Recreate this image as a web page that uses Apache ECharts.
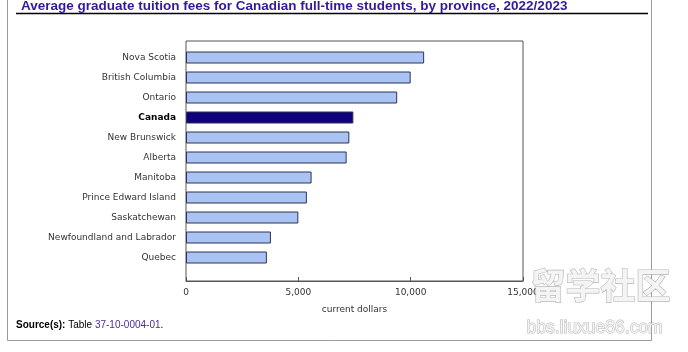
<!DOCTYPE html>
<html>
<head>
<meta charset="utf-8">
<script src="https://cdn.jsdelivr.net/npm/echarts@6/dist/echarts.min.js"></script>
<style>
  html, body { margin: 0; padding: 0; background: #fff; }
  #chart { width: 688px; height: 352px; }
</style>
</head>
<body>
<div id="chart"></div>
<script>
// 省份与学费（当前美元）
const provinces = ['Nova Scotia', 'British Columbia', 'Ontario', 'Canada', 'New Brunswick', 'Alberta',
    'Manitoba', 'Prince Edward Island', 'Saskatchewan', 'Newfoundland and Labrador', 'Quebec'];
const fees = [10600, 10000, 9400, 7450, 7270, 7150, 5590, 5380, 5000, 3780, 3600];
const xTicks = [0, 5000, 10000, 15000];

const chart = echarts.init(document.getElementById('chart'));

const barData = fees.map((v, i) => ({
    value: v,
    itemStyle: provinces[i] === 'Canada' ? { color: '#0f0080' } : {}
}));

chart.setOption({
    animation: false,
    title: {
        text: 'Average graduate tuition fees for Canadian full-time students, by province, 2022/2023',
        left: 16, top: -6,
        textStyle: { fontFamily: 'Liberation Sans', fontSize: 13.5, fontWeight: 'bold', color: '#34199c' }
    },
    graphic: [
        { type: 'rect', shape: { x: 7.5, y: -5, width: 644, height: 345.5 }, style: { fill: 'none', stroke: '#9a9a9a', lineWidth: 1 }, z: -1 },
        { type: 'line', shape: { x1: 16, y1: 13.5, x2: 648, y2: 13.5 }, style: { stroke: '#000', lineWidth: 1.5 } },
        {
            type: 'text', left: 16, top: 320,
            style: {
                text: '{b|Source(s):} Table {l|37-10-0004-01}.',
                rich: {
                    b: { fontWeight: 'bold', fontFamily: 'Liberation Sans', fontSize: 10, fill: '#000' },
                    l: { fontFamily: 'Liberation Sans', fontSize: 10, fill: '#4a2d96' }
                },
                fontFamily: 'Liberation Sans', fontSize: 10, fill: '#000'
            }
        },
        // 水印
        {
            type: 'text', left: 530, top: 268, z: 100,
            style: { text: '留学社区', fontFamily: 'Noto Sans CJK SC', fontSize: 35, fontWeight: 'bold',
                fill: '#f4f4f4', stroke: '#b5b5b5', lineWidth: 1.2,
                shadowColor: 'rgba(0,0,0,0.25)', shadowBlur: 3, shadowOffsetX: 1, shadowOffsetY: 1 }
        },
        {
            type: 'text', left: 526, top: 319, z: 100,
            style: { text: 'bbs.liuxue86.com', fontFamily: 'Liberation Sans', fontSize: 17.5,
                fill: '#f4f4f4', stroke: '#b5b5b5', lineWidth: 1,
                shadowColor: 'rgba(0,0,0,0.2)', shadowBlur: 2, shadowOffsetX: 1, shadowOffsetY: 1 }
        }
    ],
    grid: [
        { left: 186, top: 41, width: 337, height: 240, show: true, borderColor: '#555', borderWidth: 1, backgroundColor: '#fff' },
        { left: 186, top: 47.5, width: 337, height: 220 }
    ],
    xAxis: [
        {
            gridIndex: 0, type: 'value', min: xTicks[0], max: xTicks[xTicks.length - 1], interval: 5000,
            name: 'current dollars', nameLocation: 'middle', nameGap: 24,
            nameTextStyle: { fontFamily: 'DejaVu Sans', fontSize: 9, color: '#333' },
            axisLine: { show: true, lineStyle: { color: '#555' } },
            axisTick: { show: true, inside: true, length: 4, lineStyle: { color: '#555' } },
            axisLabel: { fontFamily: 'DejaVu Sans', fontSize: 9, color: '#333', margin: 7,
                formatter: v => v.toLocaleString('en-US') },
            splitLine: { show: false }
        },
        { gridIndex: 1, type: 'value', min: 0, max: 15000, show: false, splitLine: { show: false } }
    ],
    yAxis: [
        { gridIndex: 0, type: 'value', show: false, splitLine: { show: false } },
        {
            gridIndex: 1, type: 'category', data: provinces, inverse: true,
            axisLine: { show: false }, axisTick: { show: false },
            axisLabel: {
                margin: 10, fontFamily: 'DejaVu Sans', fontSize: 9, color: '#333',
                formatter: v => v === 'Canada' ? '{c|' + v + '}' : v,
                rich: { c: { fontWeight: 'bold', color: '#000', fontFamily: 'DejaVu Sans', fontSize: 9 } }
            }
        }
    ],
    series: [{
        type: 'bar', xAxisIndex: 1, yAxisIndex: 1, data: barData,
        barWidth: 12,
        itemStyle: { color: '#a9c3f5', borderColor: '#33334d', borderWidth: 1 }
    }]
});
</script>
</body>
</html>
